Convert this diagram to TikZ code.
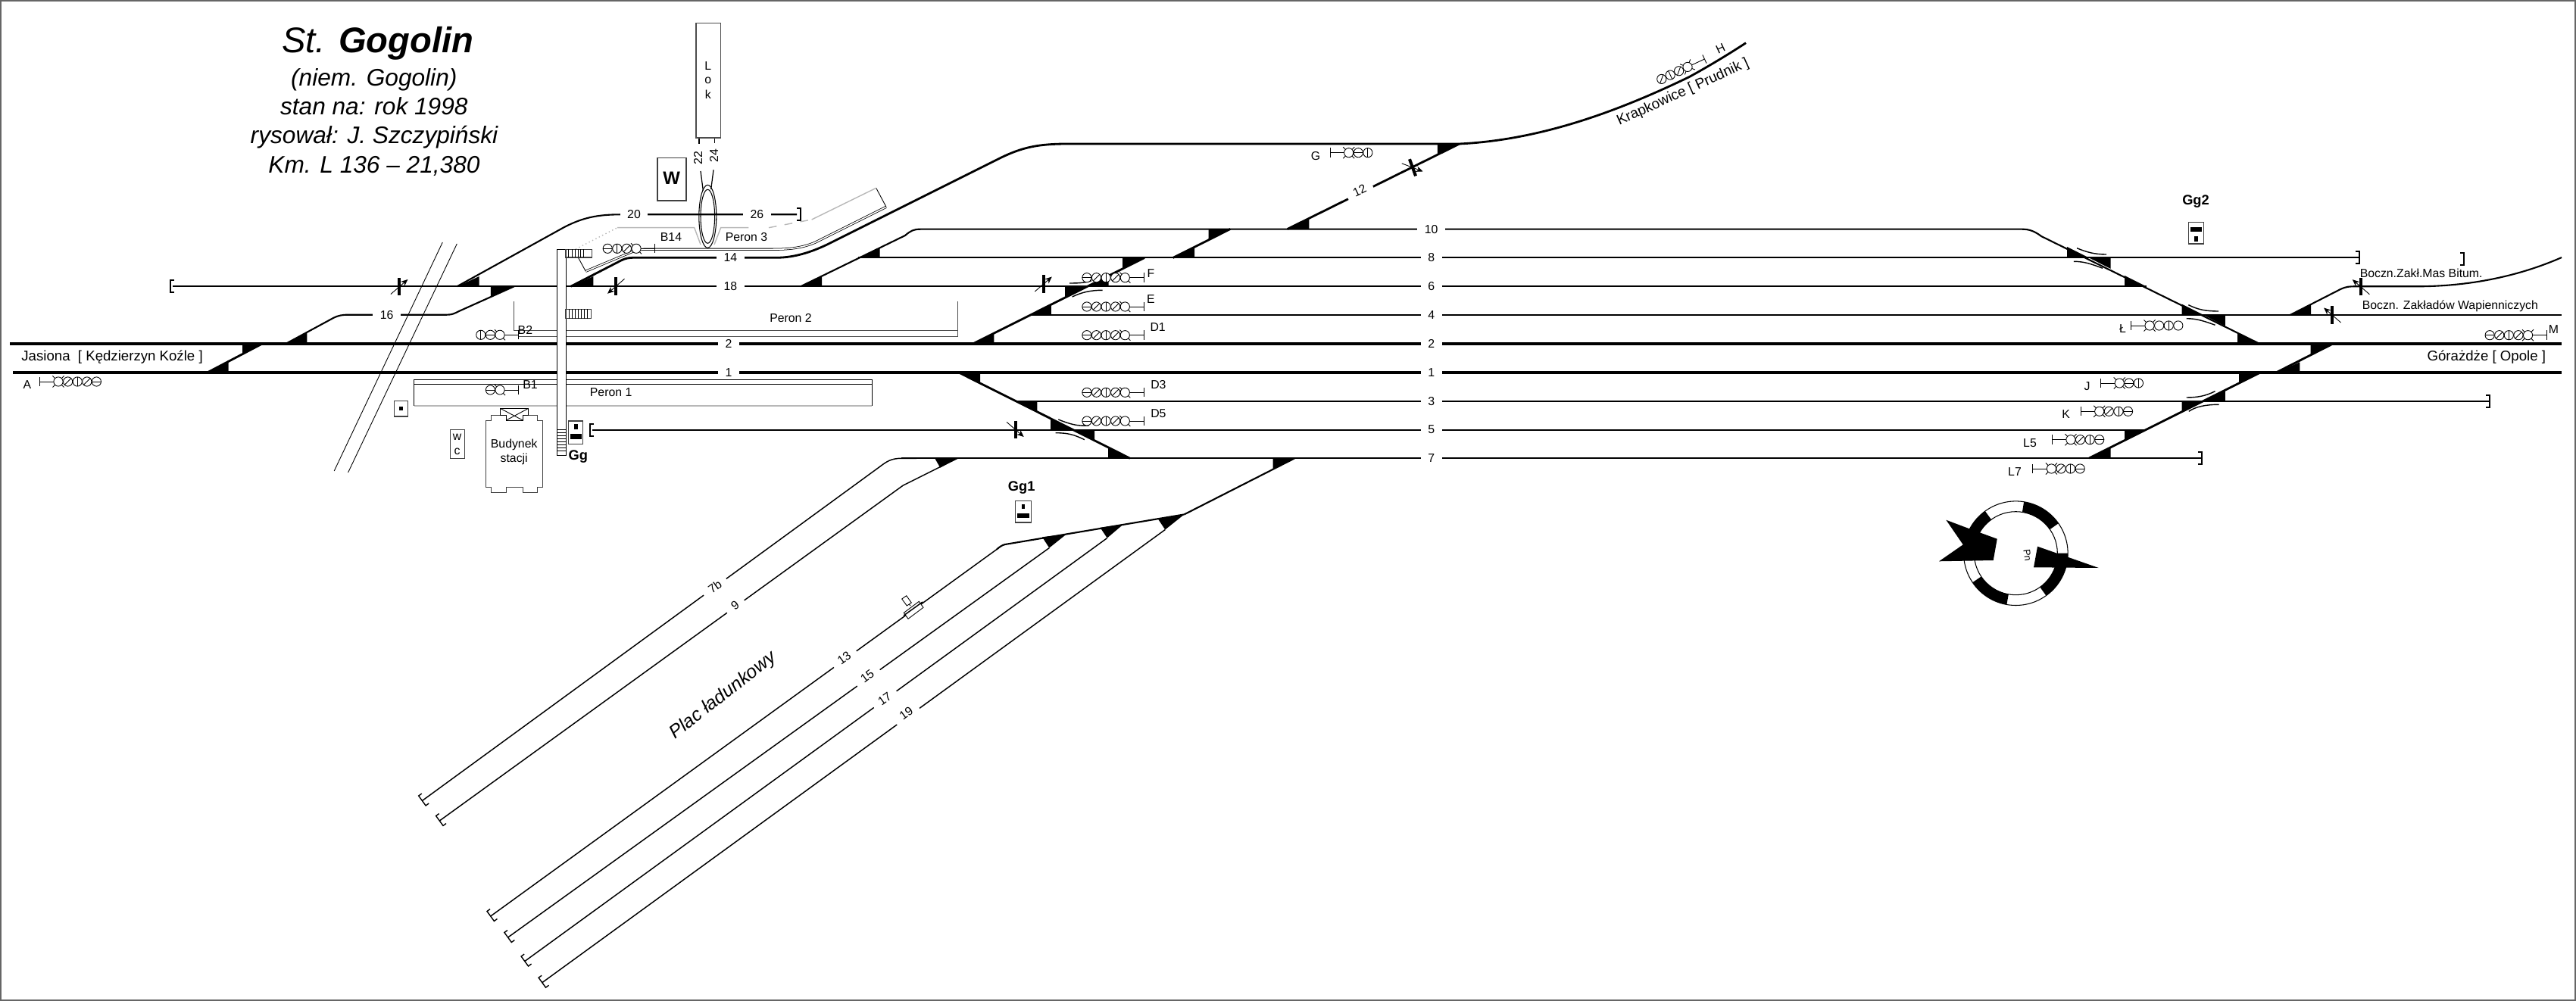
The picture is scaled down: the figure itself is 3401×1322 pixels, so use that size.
\documentclass[tikz,border=0pt]{standalone}
\usepackage{fontspec}
\setmainfont{Liberation Sans}
\usetikzlibrary{arrows.meta}
\newcounter{nd}
\tikzset{
  lab/.style={font=\fontsize{4.5}{5.4}\selectfont,inner sep=0pt,text=black},
  num/.style={lab,fill=white,inner xsep=2.7pt,inner ysep=.4pt},
  big/.style={lab,font=\fontsize{5.3}{6.4}\selectfont},
  ttl/.style={lab,anchor=base,font=\fontsize{9}{11}\selectfont\itshape},
  thinl/.style={draw=black,line width=.25pt},
  greyl/.style={draw=black!28,line width=.4pt},
  track/.style={draw=black,line width=.6pt},
  diag/.style={draw=black,line width=.42pt},
  mid/.style={draw=black,line width=.8pt},
  main/.style={draw=black,line width=1.05pt},
  slip/.style={draw=black,line width=.4pt},
  sigline/.style={draw=black,line width=.25pt},
  bumper/.style={draw=black,line width=.55pt},
  dbump/.style={draw=black,line width=.4pt},
  pbox/.style={draw=black!75,line width=.3pt,fill=white},
}
\newcommand\tx[4][]{\stepcounter{nd}\node[lab,#1] (t\arabic{nd}) at (#2,#3) {#4};}
\newcommand\lamph{\draw[sigline] (-6.1,0)--(6.1,0);}
\newcommand\lampv{\draw[sigline] (0,-6.1)--(0,6.1);}
\newcommand\lampd{\draw[sigline] (-4.3,4.3)--(4.3,-4.3);}
\newcommand\lampo{}
\newcommand\lampq{\draw[sigline] (-7,-7)--(-4.3,-4.3) (4.3,4.3)--(7,7);}
\newcommand\lampx{\draw[sigline] (-7.5,-7.5)--(-4.3,-4.3) (4.3,4.3)--(7.5,7.5) (-7.5,7.5)--(-4.3,4.3) (4.3,-4.3)--(7.5,-7.5);}
% [rotation] post x, post y, direction (1: post on right), lamps from the post outward
\newcommand\sg[5][0]{\begin{scope}[shift={(#2,#3)},rotate=#1]
  \draw[sigline] (0,-6.2)--(0,6.2) (0,0)--({-#4*18.6},0);
  \foreach \t [count=\i from 0] in {#5}{
    \pgfmathsetmacro\cx{-#4*(24.7+12.6*\i)}
    \begin{scope}[shift={(\cx,0)}]
      \draw[sigline,fill=white] (0,0) circle[radius=6.1];
      \csname lamp\t\endcsname
    \end{scope}}
\end{scope}}
\newcommand\bump[3]{\draw[bumper,shift={(#1,#2)},rotate=#3] (5,-8)--(0,-8)--(0,8)--(5,8);}
\newcommand\dbmp[3]{\draw[dbump,shift={(#1,#2)},rotate=#3] (5,-8)--(0,-8)--(0,8)--(5,8);}
\newcommand\bs[4]{\begin{scope}[shift={(#1,#2)},rotate=#3,yscale=#4]
  \draw[line width=1.15pt] (0,-11.8)--(0,11.8);
  \draw[line width=.25pt,-{Stealth[length=2.6pt,width=2.2pt]}] (-11.5,-10)--(11,9.5);
\end{scope}}
\begin{document}
\begin{tikzpicture}[x=0.01cm,y=-0.01cm]
\useasboundingbox (0,0) rectangle (3401,1322);
\draw[draw=black!60,line width=.55pt] (1,1) rectangle (3400,1321);

% road overbridge
\draw[thinl] (584.3,320)--(441.2,622) (603.3,322)--(459.6,624);

% main tracks
\draw[main] (13,453.7)--(3382,453.7);
\draw[main] (17,491.7)--(3382,491.7);
% straight tracks
\draw[track] (228,378.3)--(2833.7,378.3);
\draw[track] (1133,340.3)--(3114,340.3);
\draw[track] (1359,415.8)--(3023.5,415.8);
\draw[track] (1340,530)--(3287,530);
\draw[track] (782,567.6)--(2833.7,567.6);
\draw[track] (1190,605.3)--(2907,605.3);
\draw[track] (3023.5,416)--(3382,416);
% track 10 with both ladders
\draw[track] (1057,378.3)--(1195,311) .. controls (1202,305) and (1206,302.7) .. (1215,302.7) -- (2670,302.7) .. controls (2680,302.7) and (2687,306) .. (2695,312) -- (2982.6,453.7);
% ladder rising, left centre
\draw[mid] (1285.2,453.7)--(1511,340.5);
\draw[mid] (1548.5,340.5)--(1624.3,302.5);
% ladder falling, left centre
\draw[mid] (1265.3,491.7)--(1491.9,605.3);
% ladder rising, right
\draw[mid] (2758.2,605)--(2984.7,491.7);
\draw[mid] (3005.6,491.7)--(3080.6,453.7);
% left connections
\draw[mid] (274.3,491.7)--(346.7,453.7);
\draw[track] (377.8,453.7)--(440,420) .. controls (447,416.5) and (452,415.7) .. (460,415.7) -- (590,415.7) .. controls (597,415.7) and (600,414) .. (606,411) -- (678.7,378.3);
% track 20/26
\draw[track] (603.4,378.3)--(745,300) .. controls (770,287) and (790,283.3) .. (820,283.3) -- (1052,283.3);
% track 14 and the main line to Krapkowice
\draw[mid] (753.5,378.3)--(820,344) .. controls (826,341) and (830,340.3) .. (838,340.3) -- (1025,340.3) .. controls (1050,340.3) and (1075,332) .. (1100,319) -- (1312,213) .. controls (1345,196) and (1365,190) .. (1410,190) -- (1926.8,190) .. controls (2030,185) and (2130,150) .. (2230,101.7) .. controls (2255,88) and (2280,73) .. (2305,56.7);
% track 12
\draw[mid] (1699.7,302.5)--(1926.8,190);
% branch right
\draw[track] (3023.5,416)--(3090,382) .. controls (3098,378.3) and (3102,378.3) .. (3110,378.3) -- (3190,378.3) .. controls (3260,378.3) and (3325,365) .. (3382,340);

% lower left group
\draw[diag] (1210,605.3)--(1190,605.3) .. controls (1176,605.3) and (1170,610) .. (1160,617.5) -- (557.4,1057.5);
\draw[diag] (1264,605.3)--(1192.4,641)--(580.3,1084);
\draw[track] (1709.2,605.3)--(1563.5,679.4);
\draw[track] (1563.5,679.4)--(1327,719) .. controls (1323,720) and (1320,722) .. (1316,725.5);
\draw[diag] (1316,725.5)--(647.7,1210);
\draw[diag] (1385.3,723.6)--(670.6,1238);
\draw[diag] (1461.7,710.6)--(692.8,1269.5);
\draw[diag] (1538.3,699.5)--(715.8,1297.7);

% turnouts
\fill (377.8,454)--(405.4,454)--(405.4,439)--cycle;
\fill (320,454)--(346.7,454)--(320,467.7)--cycle;
\fill (274.3,492)--(301.7,492)--(301.7,477.3)--cycle;
\fill (603.4,378.5)--(632.7,378.5)--(632.7,365)--cycle;
\fill (647.8,378.3)--(678.7,378.3)--(647.8,392.7)--cycle;
\fill (753.5,378.5)--(783.3,378.5)--(783.3,365)--cycle;
\fill (1057,378.5)--(1085.2,378.5)--(1085.2,365)--cycle;
\fill (1133,340.7)--(1161.7,340.7)--(1161.7,327.3)--cycle;
\fill (1285.2,454)--(1312.4,454)--(1312.4,440)--cycle;
\fill (1359,416)--(1387.8,416)--(1387.8,402.3)--cycle;
\fill (1406,392.7)--(1406,378.3)--(1433.7,378.3)--cycle;
\fill (1433.7,378.3)--(1463.5,378.3)--(1463.5,365)--cycle;
\fill (1482,355)--(1482,340.5)--(1511,340.5)--cycle;
\fill (1548.5,340.7)--(1577.2,340.7)--(1577.2,326.7)--cycle;
\fill (1595.6,316.7)--(1595.6,302.5)--(1624.3,302.5)--cycle;
\fill (1699.7,302.7)--(1728.4,302.7)--(1728.4,288.3)--cycle;
\fill (1897.8,190)--(1926.8,190)--(1897.8,204)--cycle;
\fill (1265.3,491.7)--(1294,491.7)--(1294,506.7)--cycle;
\fill (1340,530)--(1369.4,530)--(1369.4,544.3)--cycle;
\fill (1387,552.7)--(1387,567.7)--(1416.5,567.7)--cycle;
\fill (1416.5,567.7)--(1445.2,567.7)--(1445.2,581.7)--cycle;
\fill (1463.2,591.3)--(1463.2,605.3)--(1491.9,605.3)--cycle;
\fill (1234.3,605.5)--(1264,605.5)--(1241.3,617.7)--cycle;
\fill (1680.5,605.3)--(1709.2,605.3)--(1680.5,619.3)--cycle;
\fill (1529,685.6)--(1563.5,679.4)--(1538.3,699.5)--cycle;
\fill (1452.6,696.8)--(1483.2,692.3)--(1461.7,710.6)--cycle;
\fill (1376,709.3)--(1408.2,705.3)--(1385.3,723.6)--cycle;
\fill (2729.1,326)--(2729.1,340.5)--(2758.2,340.5)--cycle;
\fill (2758.2,340.5)--(2786.7,340.5)--(2786.7,355)--cycle;
\fill (2805.1,364)--(2805.1,378.3)--(2833.7,378.3)--cycle;
\fill (2880.6,401.7)--(2880.6,416)--(2909.2,416)--cycle;
\fill (2909.2,416)--(2937.8,416)--(2937.8,430.7)--cycle;
\fill (2954,439.3)--(2954,453.9)--(2982.6,453.9)--cycle;
\fill (3050.5,453.7)--(3080.6,453.7)--(3050.5,470)--cycle;
\fill (3005.6,491.9)--(3036.2,491.9)--(3036.2,478.3)--cycle;
\fill (3023.5,416)--(3051,416)--(3051,402.3)--cycle;
\fill (2880.6,530)--(2909.2,530)--(2880.6,544.3)--cycle;
\fill (2909.2,530)--(2937.8,530)--(2937.8,515.7)--cycle;
\fill (2956,491.7)--(2984.7,491.7)--(2956,506)--cycle;
\fill (2805,567.3)--(2833.7,567.3)--(2805,581.7)--cycle;
\fill (2758.2,605.2)--(2786.7,605.2)--(2786.7,591)--cycle;

% slip marks
\draw[slip] (1412,374) .. controls (1425,374) and (1433,373.5) .. (1441,370.7);
\draw[slip] (1415.7,392) .. controls (1428,386) and (1440,383.3) .. (1455.5,383.3);
\draw[slip] (1397.3,554) .. controls (1412,560) and (1422,563) .. (1437.5,562);
\draw[slip] (1393.5,571.7) .. controls (1410,571.7) and (1418,574) .. (1431.8,580.7);
\draw[slip] (2742,327.7) .. controls (2755,333) and (2765,336) .. (2781,336);
\draw[slip] (2737.8,345.3) .. controls (2752,345.3) and (2762,349) .. (2776,354.3);
\draw[slip] (2889.3,402.7) .. controls (2902,409) and (2912,411) .. (2929,411);
\draw[slip] (2886.7,420.7) .. controls (2900,420.7) and (2910,424) .. (2924.5,429.3);
\draw[slip] (2886.7,525) .. controls (2901,525) and (2912,523) .. (2924.5,516.7);
\draw[slip] (2889.8,543.3) .. controls (2899,537) and (2912,534.3) .. (2929.6,534.3);

% buffer stops
\bump{225}{378.3}{0}
\bump{779}{567.6}{0}
\bump{1057.3}{283.3}{180}
\bump{3114.5}{340.3}{180}
\bump{3253}{342}{180}
\bump{3287}{530}{180}
\bump{2907}{605.2}{180}
\dbmp{557.4}{1057.5}{36}
\dbmp{580.3}{1084}{36}
\dbmp{647.7}{1210}{36}
\dbmp{670.6}{1238}{36}
\dbmp{692.8}{1269.5}{36}
\dbmp{715.8}{1297.7}{36}

% platform 1
\draw[thinl] (546.5,536)--(546.5,501.3)--(1151.4,501.3)--(1151.4,536);
\draw[draw=black,line width=.4pt] (546.5,507.7)--(1151.4,507.7);
\draw[greyl] (546.5,536)--(1151.4,536);
% platform 2
\draw[thinl,draw=black!70] (678.7,398)--(678.7,436.7)--(1264.6,436.7)--(1264.6,398);
\draw[thinl,draw=black!70] (684,444.3)--(1264.6,444.3)--(1264.6,436.7);
% platform 3
\draw[draw=black,line width=.22pt,double=white,double distance=.45pt] (1170,273.3)--(1076.7,320) .. controls (1058,328) and (1040,329.3) .. (1020,329.3) -- (850,329.3) .. controls (843,329.3) and (838,331) .. (830,334.5) -- (773.3,358.3);
\draw[thinl] (773.3,358.3)--(763.3,340);
\draw[thinl] (1156.7,248.3)--(1170,273.3);
\draw[greyl] (815,300.7)--(916.7,300.7)--(925,323);
\draw[greyl] (943,323)--(951.7,300.7)--(988.3,300.7);
\draw[greyl,densely dotted] (760,329)--(815,300.7);
\draw[greyl,dashed] (1015,300.7)--(1071.7,290);
\draw[greyl] (1071.7,290)--(1156.7,248.3);

% turntable
\draw[thinl,line width=.3pt] (934.3,285.8) ellipse[x radius=11.5,y radius=41.5];
\draw[thinl,line width=.3pt] (934.3,285.8) ellipse[x radius=9.3,y radius=35.5];
\draw[thinl,line width=.35pt] (925,226)--(928.3,251.7) (942,224.3)--(938.7,250);
\draw[thinl,line width=.35pt] (923,182)--(923,190) (943.7,182)--(943.7,189);
\draw[draw=black!70,line width=.3pt] (919,30.7) rectangle (951.3,182);
\tx{934.7}{86.7}{L}
\tx{934.7}{106}{o}
\tx{934.7}{125}{k}
\tx[rotate=90]{921.7}{208.3}{22}
\tx[rotate=90]{942.7}{206}{24}
\draw[pbox] (868,208.3) rectangle (906,265);
\tx[font=\fontsize{6.8}{8}\selectfont\bfseries]{886.7}{235}{W}

% footbridge
\draw[thinl,fill=white] (735.6,601)--(735.6,329.3)--(747,329.3)--(747,601)--cycle;
\draw[pbox] (747,329.3) rectangle (781.7,340);
\foreach \k in {750.7,755,759.3,763.3,766.7,770.7}{\draw[thinl] (\k,329.3)--(\k,340);}
\draw[pbox] (747,408.3) rectangle (780.6,420.7);
\foreach \k in {751,755,759,763,767,771,775}{\draw[thinl] (\k,408.3)--(\k,420.7);}
\draw[thinl,fill=white] (735.6,567) rectangle (747,601);
\foreach \k in {571,575,579,583,587,591,595}{\draw[thinl] (735.6,\k)--(747,\k);}

% station building
\draw[thinl,draw=black!75,fill=white] (641.3,555)--(648.9,555)--(648.9,548.3)--(668.4,548.3)--(668.4,555)--(690.1,555)--(690.1,548.3)--(709.1,548.3)--(709.1,555)--(716.7,555)--(716.7,643.3)--(709.1,643.3)--(709.1,650.7)--(690.1,650.7)--(690.1,643.3)--(668.4,643.3)--(668.4,650.7)--(648.9,650.7)--(648.9,643.3)--(641.3,643.3)--cycle;
\draw[thinl,fill=white] (660.3,539.3)--(697.7,539.3)--(697.7,548.3)--(690.1,548.3)--(690.1,555)--(668.4,555)--(668.4,548.3)--(660.3,548.3)--cycle;
\draw[thinl] (660.3,539.3)--(690.1,555) (697.7,539.3)--(668.4,555);
\tx{678.7}{587.3}{Budynek}
\tx{678.7}{606.7}{stacji}
\draw[pbox] (594.2,567.3) rectangle (613.1,605.3);
\tx{603.6}{577}{w}
\tx{603.6}{596}{c}
\draw[pbox] (520.5,529.3) rectangle (538.3,550);
\fill (526.9,537.2) rectangle (531.9,542.2);

% signal boxes
\draw[pbox] (750.8,556) rectangle (769.8,586.7);
\fill (757.9,560) rectangle (762.7,566.7);
\fill (753,573.3) rectangle (768,580);
\tx[font=\fontsize{5.2}{6}\selectfont\bfseries]{763.3}{603}{Gg}
\draw[pbox] (1340.3,661.7) rectangle (1361.7,690);
\fill (1349,665.7) rectangle (1353.3,671.7);
\fill (1342.6,678.3) rectangle (1359.4,684);
\tx[font=\fontsize{5.2}{6}\selectfont\bfseries]{1348.7}{644}{Gg1}
\draw[pbox] (2889.8,293.3) rectangle (2909.2,322);
\fill (2891.8,300) rectangle (2907,306);
\fill (2897.4,312.3) rectangle (2902,319);
\tx[font=\fontsize{5.2}{6}\selectfont\bfseries]{2899}{266}{Gg2}

% block signals
\bs{527.4}{378.5}{0}{-1}
\bs{813}{378.3}{180}{-1}
\bs{1377.8}{375}{0}{-1}
\bs{1340.7}{567.5}{0}{1}
\bs{1865}{221.3}{20}{1}
\bs{3116.8}{378.7}{180}{1}
\bs{3079}{416}{180}{1}

% coloured-light signals
\sg{52.3}{504}{-1}{x,d,v,d,h}
\sg{864.7}{328.3}{1}{q,d,v,h}
\sg{684.7}{442.3}{1}{q,h,v}
\sg{684.7}{515}{1}{q,h}
\sg{1510}{366.7}{1}{q,d,v,d,h}
\sg{1510}{405}{1}{q,d,v,d,h}
\sg{1510}{442.7}{1}{q,d,v,d,h}
\sg{1510}{518.3}{1}{q,d,v,d,h}
\sg{1510}{556}{1}{q,d,v,d,h}
\sg{1756}{201.7}{-1}{x,h,v}
\sg[25]{2250.4}{78}{1}{x,d,v,d}
\sg{2813.3}{430}{-1}{x,o,v,o}
\sg{2773.5}{506}{-1}{x,h,v}
\sg{2747}{543.3}{-1}{x,d,v,h}
\sg{2709.2}{580.7}{-1}{x,d,v,h}
\sg{2683.7}{619}{-1}{x,d,v,h}
\sg{3362.2}{442.7}{1}{x,d,v,d,h}

% small structure on track 13
\draw[thinl,fill=white] (1193.3,809.3)--(1213.3,794.3)--(1219,802.3)--(1199,817.3)--cycle;
\draw[diag] (1193,813)--(1218,795);
\draw[thinl] (1190.7,791)--(1196.7,786.7)--(1203.3,796)--(1197.3,800)--cycle;
\draw[thinl] (1200.3,798)--(1202,800);

% track numbers
\tx[num]{837}{283.3}{20}
\tx[num]{999.3}{283.3}{26}
\tx[num]{964.3}{340.3}{14}
\tx[num]{964.3}{378.3}{18}
\tx[num]{510.7}{415.7}{16}
\tx[num]{962}{453.7}{2}
\tx[num]{962}{491.7}{1}
\tx[num]{1889.7}{302.7}{10}
\tx[num]{1889.7}{340.3}{8}
\tx[num]{1889.7}{378.3}{6}
\tx[num]{1889.7}{415.8}{4}
\tx[num]{1889.7}{453.7}{2}
\tx[num]{1889.7}{491.7}{1}
\tx[num]{1889.7}{530}{3}
\tx[num]{1889.7}{567.6}{5}
\tx[num]{1889.7}{605.3}{7}
\tx[num,rotate=26]{1795}{251.7}{12}
\tx[num,rotate=36]{943.8}{775}{7b}
\tx[num,rotate=36]{970.5}{800}{9}
\tx[num,rotate=36]{1114.4}{868.7}{13}
\tx[num,rotate=36]{1145}{893}{15}
\tx[num,rotate=36]{1168}{922.7}{17}
\tx[num,rotate=36]{1196.3}{942.3}{19}

% labels
\tx{886}{313}{B14}
\tx{985.5}{313}{Peron 3}
\tx{1044}{420}{Peron 2}
\tx{806.6}{517.7}{Peron 1}
\tx{693.4}{436}{B2}
\tx{700}{507.7}{B1}
\tx{36}{508}{A}
\tx{1737}{205.7}{G}
\tx[rotate=25]{2271.4}{64.3}{H}
\tx{1519.4}{360.7}{F}
\tx{1519.4}{395}{E}
\tx{1528.6}{432.3}{D1}
\tx{1529.4}{508.3}{D3}
\tx{1529.4}{546}{D5}
\tx{2802.6}{434}{Ł}
\tx{2755.6}{510}{J}
\tx{2727.5}{547.3}{K}
\tx{2680}{585.3}{L5}
\tx{2660}{623.3}{L7}
\tx{3371.4}{435}{M}
\tx[big,anchor=west]{27.7}{471.7}{Jasiona\ \ [ Kędzierzyn Koźle ]}
\tx[big,anchor=east]{3361.7}{471.7}{Górażdże [ Opole ]}
\tx[big,rotate=24.5,font=\fontsize{5.4}{6.4}\selectfont]{2222}{122}{Krapkowice [ Prudnik ]}
\tx[anchor=west]{3115}{360.7}{Boczn.Zakł.Mas Bitum.}
\tx[anchor=west]{3118}{404}{Boczn. Zakładów Wapienniczych}
\tx[rotate=38,font=\fontsize{7}{8.4}\selectfont\itshape]{955}{919}{Plac ładunkowy}

% title
\tx[lab,anchor=base,font=\fontsize{13.4}{16}\selectfont]{498.6}{69.4}{\textit{St. }\textbf{\textit{Gogolin}}}
\tx[ttl]{493.8}{113.6}{(niem. Gogolin)}
\tx[ttl]{493.8}{151.5}{stan na: rok 1998}
\tx[ttl]{494}{190}{rysował: J. Szczypiński}
\tx[ttl]{494}{228.5}{Km. L 136 – 21,380}

% compass
\begin{scope}[shift={(2661.3,730.7)},y=0.01cm]
  \draw[thinl,line width=.3pt] (0,0) circle[radius=68.8];
  \draw[thinl,line width=.3pt] (0,0) circle[radius=55];
  \foreach \a/\b in {35/81,126/185,214/260,305.6/360}{
    \fill (\a:68.8) arc[start angle=\a,end angle=\b,radius=68.8] -- (\b:55) arc[start angle=\b,end angle=\a,radius=55] -- cycle;}
\end{scope}
\fill (2569.3,686.7)--(2600,698.3)--(2636.7,711.7)--(2631.7,740)--(2560,741.3)--(2591.7,719.3)--cycle;
\fill (2690,721.7)--(2770.7,750)--(2685,749.3)--cycle;
\tx[rotate=-82,font=\fontsize{3.6}{4.2}\selectfont]{2676.7}{733.3}{Pn}
\end{tikzpicture}
\end{document}
